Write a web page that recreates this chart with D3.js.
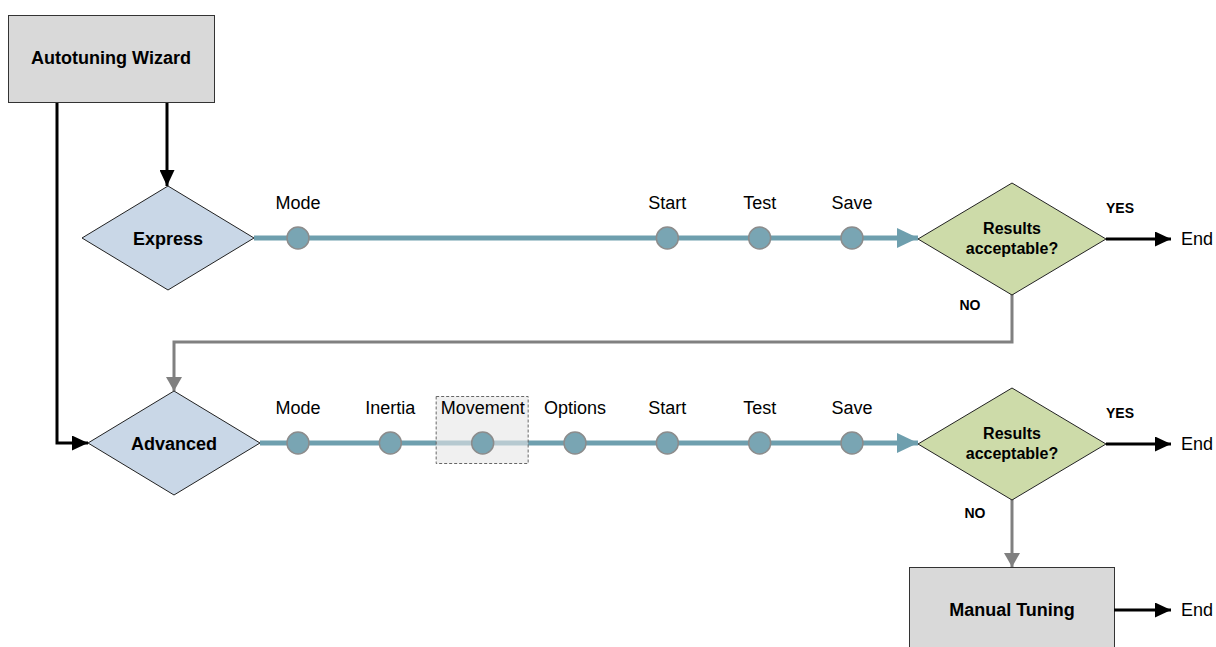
<!DOCTYPE html>
<html><head><meta charset="utf-8">
<script src="https://cdn.jsdelivr.net/npm/d3@7"></script>
<style>html,body{margin:0;padding:0;background:#fff;}svg{display:block;font-family:"Liberation Sans",Arial,sans-serif;}</style>
</head><body>
<svg id="c" width="1216" height="647"></svg>
<script>
// ---- data ----
const advancedSteps = ["Mode","Inertia","Movement","Options","Start","Test","Save"];
const expressSteps = ["Mode","Start","Test","Save"];
const highlightedStep = "Movement";
const modes = ["Express","Advanced"];
const decisionLabel = ["Results","acceptable?"];
const yesLabel = "YES", noLabel = "NO", endLabel = "End";
const startLabel = "Autotuning Wizard";
const fallbackLabel = "Manual Tuning";

// ---- layout ----
const svg = d3.select("#c");
const x = d3.scalePoint().domain(advancedSteps).range([298, 852]);
const rowY = d3.scaleOrdinal().domain(modes).range([238, 443]);
const modeCx = d3.scaleOrdinal().domain(modes).range([168, 174]);
const hw = 86, hh = 52;       // mode diamond half sizes
const decCx = 1012, dhw = 94, dhh = 56;

const defs = svg.append("defs");
function marker(id, color, w, h) {
  defs.append("marker").attr("id", id).attr("markerUnits", "userSpaceOnUse")
    .attr("viewBox", `0 0 ${w} ${h}`).attr("refX", w).attr("refY", h/2)
    .attr("markerWidth", w).attr("markerHeight", h).attr("orient", "auto")
    .append("path").attr("d", `M0,0L${w},${h/2}L0,${h}Z`).attr("fill", color);
}
marker("ab", "#000", 16, 15);
marker("ag", "#808080", 14, 16);
marker("at", "#6e9fae", 21, 20);

const line = d3.line();
function path(pts, color, w, m) {
  svg.append("path").attr("d", line(pts)).attr("fill", "none")
    .attr("stroke", color).attr("stroke-width", w).attr("marker-end", `url(#${m})`);
}
function diamond(cx, cy, a, b, fill) {
  svg.append("path").attr("d", line([[cx-a,cy],[cx,cy-b],[cx+a,cy],[cx,cy+b]]) + "Z")
    .attr("fill", fill).attr("stroke", "#222").attr("stroke-width", 1);
}
function text(t, tx, ty, size, weight, anchor) {
  return svg.append("text").attr("x", tx).attr("y", ty).attr("font-size", size)
    .attr("font-weight", weight || "normal").attr("text-anchor", anchor || "middle")
    .attr("dominant-baseline", "central").attr("fill", "#000").text(t);
}

// connectors from wizard
path([[57,102],[57,rowY("Advanced")],[modeCx("Advanced")-hw,rowY("Advanced")]], "#000", 3, "ab");
path([[167,102],[167,rowY("Express")-hh]], "#000", 3, "ab");
// NO from first decision back to advanced
path([[decCx,rowY("Express")+dhh],[decCx,342],[modeCx("Advanced"),342],[modeCx("Advanced"),rowY("Advanced")-hh]], "#808080", 3, "ag");
// NO from second decision to manual tuning
path([[decCx,rowY("Advanced")+dhh],[decCx,567]], "#808080", 3, "ag");

// wizard box
svg.append("rect").attr("x", 8.5).attr("y", 15.5).attr("width", 206).attr("height", 87)
  .attr("fill", "#d9d9d9").attr("stroke", "#333");
text(startLabel, 111, 58, 18, "bold");

// manual tuning box
svg.append("rect").attr("x", 909.5).attr("y", 567.5).attr("width", 205).attr("height", 90)
  .attr("fill", "#d9d9d9").attr("stroke", "#333");
text(fallbackLabel, 1012, 610, 18, "bold");
path([[1114,610],[1171,610]], "#000", 3, "ab");
text(endLabel, 1181, 610, 18, "normal", "start");

modes.forEach(mode => {
  const cy = rowY(mode), cx = modeCx(mode);
  const steps = mode === "Express" ? expressSteps : advancedSteps;
  // process line
  path([[cx+hw, cy],[decCx-dhw, cy]], "#6e9fae", 5, "at");
  // highlight box
  if (steps.includes(highlightedStep)) {
    const hx = x(highlightedStep);
    svg.append("rect").attr("x", hx-46.5).attr("y", cy-46.5).attr("width", 92).attr("height", 67)
      .attr("fill", "#e6e6e6").attr("fill-opacity", 0.6)
      .attr("stroke", "#666").attr("stroke-dasharray", "3,2").attr("stroke-width", 1);
  }
  // steps
  svg.selectAll(null).data(steps).join("circle")
    .attr("cx", d => x(d)).attr("cy", cy).attr("r", 11)
    .attr("fill", "#79a5b3").attr("stroke", "#8c8c8c").attr("stroke-width", 1.5);
  steps.forEach(s => text(s, x(s), cy-35, 18, "normal"));
  // mode diamond
  diamond(cx, cy, hw, hh, "#c9d7e7");
  text(mode, cx, cy+1, 18, "bold");
  // decision
  diamond(decCx, cy+1, dhw, dhh, "#cddba9");
  text(decisionLabel[0], decCx, cy-10, 16, "bold");
  text(decisionLabel[1], decCx, cy+10, 16, "bold");
  path([[decCx+dhw, cy+1],[1171, cy+1]], "#000", 3, "ab");
  text(endLabel, 1181, cy+1, 18, "normal", "start");
  text(yesLabel, 1120, cy-30, 14, "bold");
});
text(noLabel, 970, 305, 14, "bold");
text(noLabel, 975, 513, 14, "bold");
</script>
</body></html>
